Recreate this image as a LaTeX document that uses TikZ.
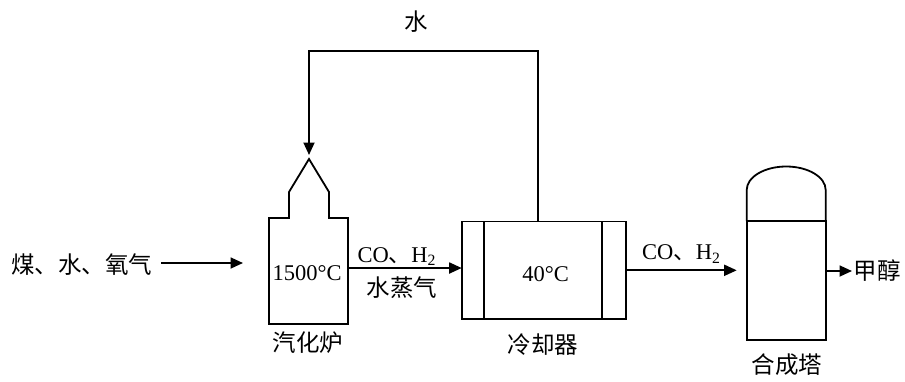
\documentclass[tikz,border=0pt]{standalone}
\usepackage{fontspec}
\setmainfont{Liberation Serif}
\newfontfamily\cjk{Noto Sans CJK SC}
\usetikzlibrary{arrows.meta}

\newcommand{\lsize}{\fontsize{22.5}{26}\selectfont}
\newcommand{\csize}{\fontsize{23.5}{27}\selectfont}

\tikzset{
	unit/.style = {draw, line width=1.8pt, inner sep=0pt, outer sep=0pt},
	flow/.style = {line width=1.8pt, -{Triangle[length=12.5pt, width=11pt]}},
	lbl/.style = {inner sep=0pt, font=\csize\cjk},
}

\begin{document}
\begin{tikzpicture}[x=1pt, y=1pt, line width=1.8pt, font=\lsize]
	\useasboundingbox (0,0) rectangle (905,-381);
	% gasifier
	\node[inner sep=0pt, outer sep=0pt, minimum width=79pt, minimum height=106pt] (furnace) at (308.5,-271) {};
	\node (furnacetemp) at (307,-273) {1500°C};
	\coordinate (apex) at (309,-159);
	\draw (furnace.north west) -- (furnace.south west) -- (furnace.south east) -- (furnace.north east)
		-- ++(-19,0) -- ++(0,26) -- (apex) -- (289,-192) -- (289,-218) -- cycle;
	% cooler
	\node[unit, minimum width=164pt, minimum height=97.5pt] (cooler) at (543.7,-270.3) {};
	\node (cooltemp) at (545.7,-274) {40°C};
	\draw ([xshift=22.5pt]cooler.north west) -- ([xshift=22.5pt]cooler.south west)
		([xshift=-23.5pt]cooler.north east) -- ([xshift=-23.5pt]cooler.south east);
	% synthesis tower
	\node[unit, minimum width=79pt, minimum height=119pt] (tower) at (786.2,-280.5) {};
	\draw (tower.north west) -- ++(0,31) arc[start angle=180, end angle=0, x radius=39.5, y radius=23.5] -- (tower.north east);

	% streams
	\node[lbl, anchor=east] (feed) at (153,-265) {煤、水、氧气};
	\coordinate (feedtip) at (243,-263);
	\draw[flow, shorten <=8pt] (feed.east |- feedtip) -- (feedtip);

	\coordinate (gasout) at ([yshift=3pt]furnace.east);
	\draw[flow] (gasout) -- (gasout -| cooler.west)
		node[midway, above=-2pt, xshift=-8pt] (gaslbl) {CO{\cjk 、}H\textsubscript{2}}
		node[midway, below=8pt, lbl, xshift=-3pt] (steamlbl) {水蒸气};

	\draw[flow, shorten >=10pt] (cooler.east) -- (cooler.east -| tower.west)
		node[midway, above=3pt, xshift=-5pt] (synlbl) {CO{\cjk 、}H\textsubscript{2}};

	\node[lbl, anchor=west, inner sep=1pt] (product) at (852,-271) {甲醇};
	\draw[flow] (tower.east |- product) -- (product.west);

	\draw[flow, shorten >=4pt] ([xshift=-5.4pt]cooler.north) -- ++(0,170.7) -| (apex);
	\node[lbl] (water) at (416,-22) {水};

	% captions
	\node[lbl] (furnacelbl) at (308,-343) {汽化炉};
	\node[lbl] (coolerlbl) at (543,-345) {冷却器};
	\node[lbl] (towerlbl) at (787,-365) {合成塔};
\end{tikzpicture}
\end{document}
